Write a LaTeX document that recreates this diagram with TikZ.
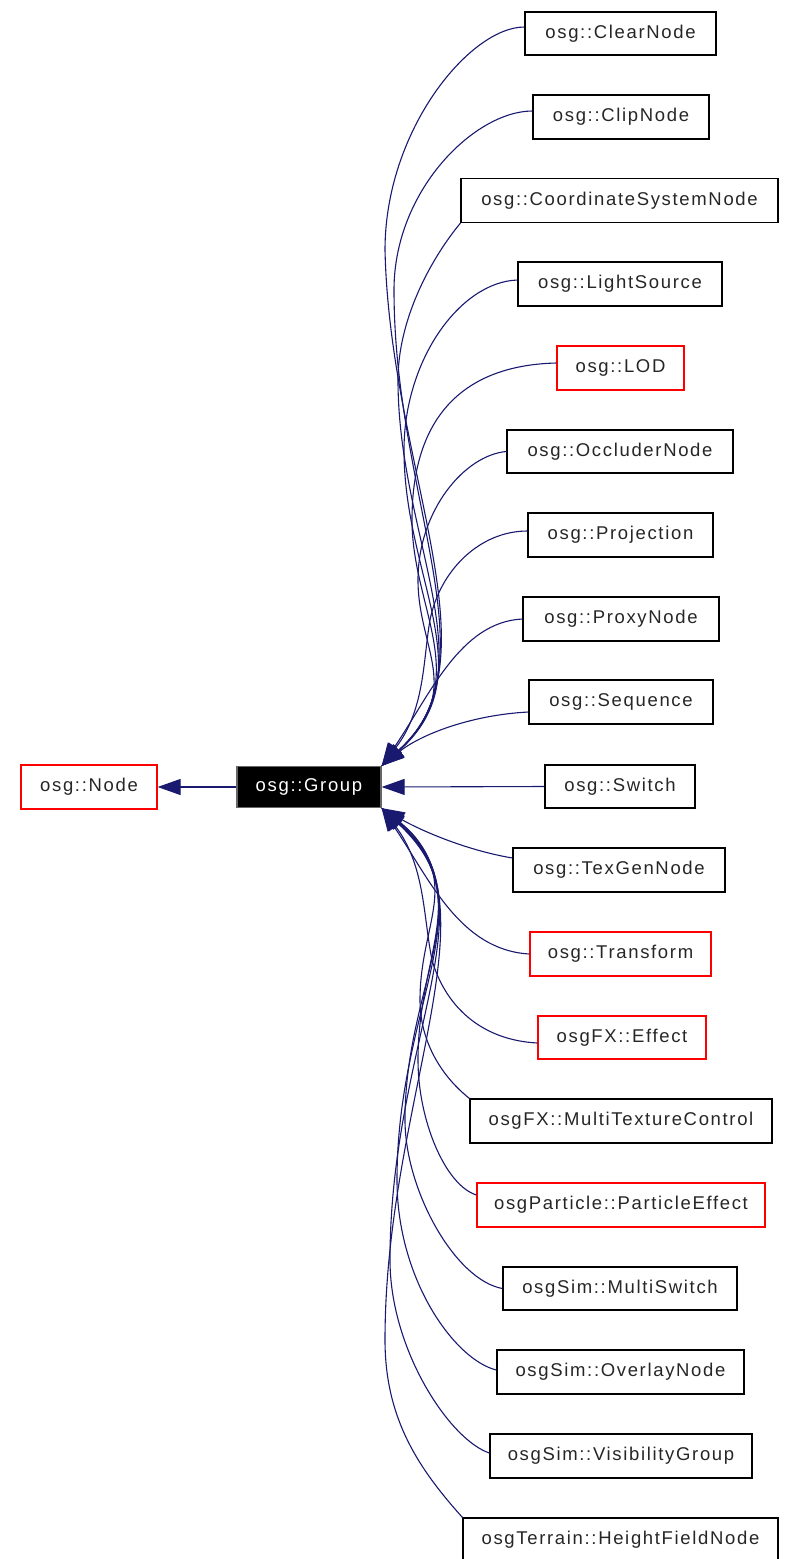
\documentclass[tikz,border=0pt]{standalone}
\usepackage{fontspec}
\setmainfont{Liberation Sans}
\newfontfamily\lbl[LetterSpace=9]{Liberation Sans}
\usetikzlibrary{arrows.meta,calc}
\definecolor{edgeblue}{HTML}{191970}
\definecolor{boxred}{HTML}{FF0000}
\tikzset{
  cls/.style={draw=black, line width=1.2pt, inner sep=0pt, minimum height=44pt,
    font=\lbl\fontsize{18.5}{20}\selectfont, text=black!85},
  redcls/.style={cls, draw=boxred},
  curcls/.style={cls, fill=black, draw=black!60, text=white},
  edge/.style={draw=edgeblue, line width=1.1pt, -{Triangle[length=23pt,width=16pt]}},
}
\begin{document}
\begin{tikzpicture}[x=1pt,y=-1pt]
\useasboundingbox (0,0) rectangle (788,1559);
% nodes
\node[redcls, minimum width=136pt] (node) at (89,787) {osg::Node};
\node[curcls, minimum width=144pt, minimum height=41pt] (grp) at (309,787) {osg::Group};
\node[cls, minimum width=191pt, minimum height=43pt] (clear) at (620.5,33.5) {osg::ClearNode};
\node[cls, minimum width=176pt] (clip) at (621,117) {osg::ClipNode};
\node[cls, minimum width=317pt] (coord) at (619.5,200.5) {osg::CoordinateSystemNode};
\node[cls, minimum width=204pt] (light) at (620,284) {osg::LightSource};
\node[redcls, minimum width=127pt] (lod) at (620.5,368) {osg::LOD};
\node[cls, minimum width=226pt, minimum height=43pt] (occl) at (620,451.5) {osg::OccluderNode};
\node[cls, minimum width=185pt] (proj) at (620.5,535) {osg::Projection};
\node[cls, minimum width=196pt] (proxy) at (621,619) {osg::ProxyNode};
\node[cls, minimum width=184pt] (seq) at (621,702) {osg::Sequence};
\node[cls, minimum width=150pt, minimum height=43pt] (switch) at (620,786.5) {osg::Switch};
\node[cls, minimum width=212pt] (texgen) at (619,870) {osg::TexGenNode};
\node[redcls, minimum width=181pt] (transform) at (620.5,954) {osg::Transform};
\node[redcls, minimum width=168pt, minimum height=43pt] (effect) at (622,1037.5) {osgFX::Effect};
\node[cls, minimum width=302pt] (mtc) at (621,1121) {osgFX::MultiTextureControl};
\node[redcls, minimum width=288pt] (particle) at (621,1205) {osgParticle::ParticleEffect};
\node[cls, minimum width=234pt, minimum height=43pt] (mswitch) at (620,1288.5) {osgSim::MultiSwitch};
\node[cls, minimum width=247pt] (overlay) at (620.5,1372) {osgSim::OverlayNode};
\node[cls, minimum width=262pt] (visgrp) at (621,1456) {osgSim::VisibilityGroup};
\node[cls, minimum width=315pt] (hfn) at (620.5,1540) {osgTerrain::HeightFieldNode};
% edges
\draw[edge] (grp.west) -- (node.east);
\draw[edge] ([yshift=6.5pt]clear.west) .. controls (470,27) and (385,130) .. (385,250)
  .. controls (390,470) and (500,660) .. (grp.north east);
\draw[edge] ([yshift=6pt]clip.west) .. controls (475,111) and (394,190) .. (394,290)
  .. controls (394,500) and (495,665) .. (grp.north east);
\draw[edge] (coord.south west) .. controls (430,260) and (398,320) .. (398,380)
  .. controls (398,540) and (490,670) .. (grp.north east);
\draw[edge] ([yshift=4pt]light.west) .. controls (460,282) and (404,360) .. (404,450)
  .. controls (404,580) and (485,675) .. (grp.north east);
\draw[edge] ([yshift=5pt]lod.west) .. controls (470,365) and (412,410) .. (412,520)
  .. controls (412,610) and (475,680) .. (grp.north east);
\draw[edge] (occl.west) .. controls (465,455) and (418,510) .. (418,580)
  .. controls (418,650) and (465,690) .. (grp.north east);
\draw[edge] ([yshift=4pt]proj.west) .. controls (480,531) and (440,570) .. (430,620)
  .. controls (423,660) and (425,710) .. (grp.north east);
\draw[edge] (proxy.west) .. controls (460,622) and (430,695) .. (grp.north east);
\draw[edge] ([yshift=-10pt]seq.west) .. controls (470,715) and (420,735) .. (grp.north east);
\draw[edge] (switch.west) -- (grp.east);
\draw[edge] ([yshift=12pt]texgen.west) .. controls (465,850) and (420,830) .. (grp.south east);
\draw[edge] (transform.west) .. controls (460,950) and (430,880) .. (grp.south east);
\draw[edge] ([yshift=-5.5pt]effect.west) .. controls (480,1040) and (445,1005) .. (432,960)
  .. controls (423,915) and (425,865) .. (grp.south east);
\draw[edge] (mtc.north west) .. controls (440,1075) and (420,1040) .. (420,1000)
  .. controls (420,920) and (465,880) .. (grp.south east);
\draw[edge] ([yshift=10pt]particle.west) .. controls (445,1185) and (418,1120) .. (418,1060)
  .. controls (418,950) and (475,895) .. (grp.south east);
\draw[edge] (mswitch.west) .. controls (455,1280) and (405,1190) .. (405,1120)
  .. controls (405,980) and (485,900) .. (grp.south east);
\draw[edge] ([yshift=2pt]overlay.west) .. controls (455,1360) and (397,1280) .. (397,1180)
  .. controls (397,1000) and (490,905) .. (grp.south east);
\draw[edge] ([yshift=3pt]visgrp.west) .. controls (450,1440) and (390,1350) .. (390,1260)
  .. controls (390,1040) and (495,900) .. (grp.south east);
\draw[edge] (hfn.north west) .. controls (420,1470) and (385,1420) .. (385,1340)
  .. controls (385,1100) and (500,900) .. (grp.south east);
\end{tikzpicture}
\end{document}
